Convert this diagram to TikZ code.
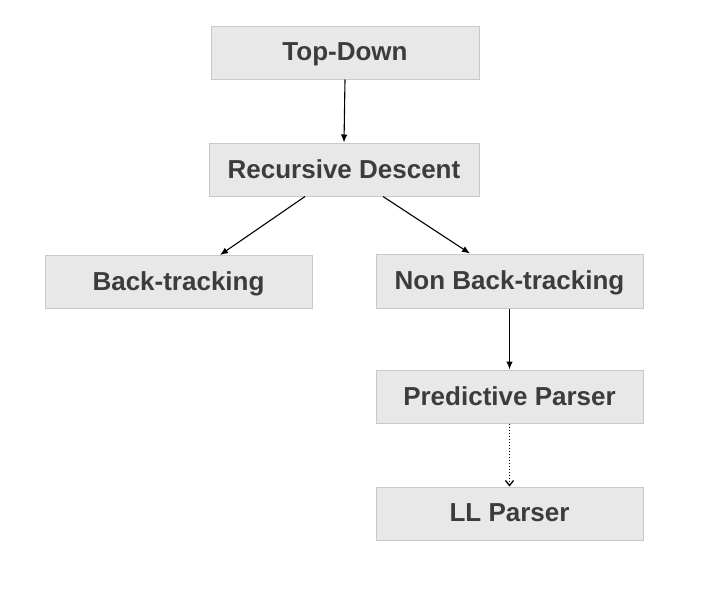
\documentclass[tikz,border=0pt]{standalone}
\usepackage{fontspec}
\setmainfont{Liberation Sans}
\usetikzlibrary{arrows.meta}
\definecolor{boxfill}{HTML}{E8E8E8}
\definecolor{boxline}{HTML}{C9C9C9}
\definecolor{boxtext}{HTML}{3C3C3C}
\tikzset{
  pbox/.style={draw=boxline, fill=boxfill, line width=1pt, rectangle,
    minimum width=268pt, minimum height=53pt, inner sep=0pt,
    font=\fontsize{26}{30}\selectfont\bfseries, text=boxtext,
    text depth=1pt},
  conn/.style={line width=1.1pt, -{Latex[length=8pt,width=6.5pt]}},
  dconn/.style={line width=1.3pt, dash pattern=on 1.5pt off 1.5pt, -{Straight Barb[length=5pt,width=8pt]}}
}
\begin{document}
\begin{tikzpicture}[x=1pt,y=-1pt]
\useasboundingbox[fill=white] (0,0) rectangle (706,590);
\node[pbox] (td) at (345,52.5) {Top-Down};
\node[pbox, minimum width=270pt] (rd) at (344,169.5) {Recursive Descent};
\node[pbox, minimum width=267pt] (bt) at (178.5,282) {Back-tracking};
\node[pbox, minimum width=267pt, minimum height=54pt] (nb) at (509.5,281) {Non Back-tracking};
\node[pbox, minimum width=267pt] (pp) at (509.5,396.5) {Predictive Parser};
\node[pbox, minimum width=267pt] (ll) at (509.5,513.5) {LL Parser};
\draw[conn] (td.south) -- (rd.north);
\draw[conn] ([xshift=-39pt]rd.south) -- ([xshift=41.5pt]bt.north);
\draw[conn] ([xshift=39pt]rd.south) -- ([xshift=-39.5pt]nb.north);
\draw[conn] (nb.south) -- (pp.north);
\draw[dconn] (pp.south) -- (ll.north);
\end{tikzpicture}
\end{document}
